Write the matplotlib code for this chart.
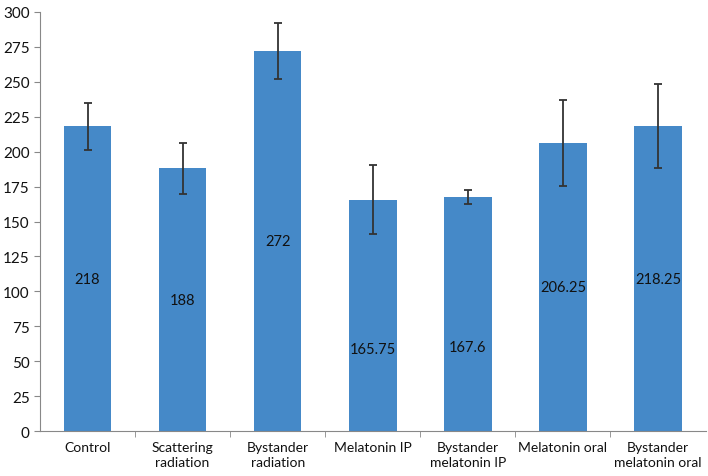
import numpy as np
import matplotlib.pyplot as plt
from matplotlib.ticker import FixedLocator

categorias = ['Control', 'Scattering\nradiation', 'Bystander\nradiation', 'Melatonin IP',
              'Bystander\nmelatonin IP', 'Melatonin oral', 'Bystander\nmelatonin oral']
valores = [218, 188, 272, 165.75, 167.6, 206.25, 218.25]
errores = [17, 18, 20, 24.5, 5.3, 30.5, 30]
etiquetas = ['218', '188', '272', '165.75', '167.6', '206.25', '218.25']
altura_etiqueta = [109, 94, 136, 59, 60, 103, 109]

plt.rcParams['font.family'] = ['Lato', 'DejaVu Sans']

fig = plt.figure(figsize=(7.08, 4.77), dpi=100)
ax = fig.add_axes([0.0565, 0.094, 0.94, 0.879])

x = np.arange(len(categorias))
ax.bar(x, valores, width=0.5, color='#4589c8', zorder=2)
ax.errorbar(x, valores, yerr=errores, fmt='none', ecolor='#333333',
            elinewidth=1.3, capsize=3, capthick=1.3, zorder=3)

for xi, et, yh in zip(x, etiquetas, altura_etiqueta):
    ax.text(xi, yh, et, ha='center', va='center', fontsize=10.5, color='#111111')

ax.set_xlim(-0.5, 6.5)
ax.set_ylim(0, 300)
ax.set_yticks(np.arange(0, 301, 25))
ax.set_xticks(x)
ax.set_xticklabels(categorias, fontsize=10, linespacing=1.35, color='#111111')
ax.tick_params(axis='x', length=0, pad=7)
ax.xaxis.set_minor_locator(FixedLocator(np.arange(0.5, 6.5, 1)))
ax.tick_params(axis='x', which='minor', length=4, color='#888888')
ax.tick_params(axis='y', labelsize=11, length=4, color='#888888', labelcolor='#111111')

for s in ['top', 'right']:
    ax.spines[s].set_visible(False)
ax.spines['left'].set_color('#888888')
ax.spines['bottom'].set_color('#888888')

plt.savefig('out.png', dpi=100)
